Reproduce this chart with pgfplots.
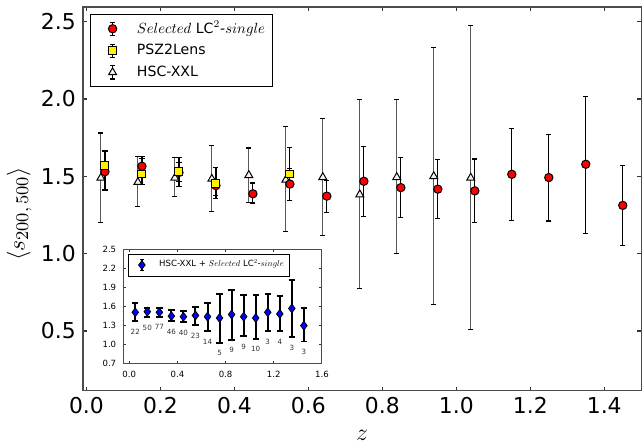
\documentclass[border=0pt]{standalone}
\usepackage{pgfplots}
\pgfplotsset{compat=1.18}
\usepackage{fontspec}
\setmainfont{DejaVu Sans}
\newcommand\smi[2]{\scalebox{#1}{\fontsize{10}{12}\selectfont$#2$}}
\pgfplotsset{
  mainleg/.style={legend image code/.code={%
    \draw[black, line width=0.6pt] (9.5pt,-3.3pt) -- (9.5pt,3.3pt) (8.2pt,-3.3pt) -- (10.8pt,-3.3pt) (8.2pt,3.3pt) -- (10.8pt,3.3pt);
    \draw[##1] plot coordinates {(9.5pt,0pt)};
    \path (0pt,0pt) (19.5pt,0pt);}},
  insetleg/.style={legend image code/.code={%
    \draw[black, line width=0.8pt] (5.5pt,-2.8pt) -- (5.5pt,2.8pt) (4.5pt,-2.8pt) -- (6.5pt,-2.8pt) (4.5pt,2.8pt) -- (6.5pt,2.8pt);
    \draw[##1] plot coordinates {(5.5pt,0pt)};
    \path (0pt,0pt) (12pt,0pt);}},
}
\begin{document}
\begin{tikzpicture}
\begin{axis}[
  name=main,
  scale only axis, width=281pt, height=193pt,
  xmin=-0.01, xmax=1.5, ymin=0.115, ymax=2.595,
  xtick={0,0.2,0.4,0.6,0.8,1.0,1.2,1.4},
  ytick={0.5,1.0,1.5,2.0,2.5},
  xticklabel style={/pgf/number format/.cd, fixed, fixed zerofill, precision=1, assume math mode=true},
  yticklabel style={/pgf/number format/.cd, fixed, fixed zerofill, precision=1, assume math mode=true},
  tick label style={font=\fontsize{11}{13}\selectfont},
  axis line style={black!70, line width=0.75pt},
  tick style={black!80, line width=0.6pt},
  major tick length=2pt,
  xlabel={$z$}, ylabel={$\left\langle s_{200,\,500}\right\rangle$},
  label style={font=\fontsize{12}{14}\selectfont},
  xlabel style={at={(axis description cs:0.5,-0.117)}, anchor=center},
  ylabel style={at={(axis description cs:-0.114,0.461)}, anchor=center, font=\fontsize{13}{15}\selectfont},
  legend style={at={(0.0125,0.982)}, anchor=north west, draw=black, line width=0.5pt,
    font=\fontsize{7.1}{9}\selectfont, inner sep=1.5pt, row sep=0pt},
  legend cell align=left,
]
\addlegendimage{mainleg, mark=*, mark size=2.1pt, mark options={fill=red, draw=black, line width=0.5pt}}
\addlegendentry{\smi{0.74}{Selected} LC\smi{0.74}{^{2}}-\smi{0.74}{single}}
\addlegendimage{mainleg, mark=square*, mark size=2pt, mark options={fill=yellow, draw=black, line width=0.5pt}}
\addlegendentry{PSZ2Lens}
\addlegendimage{mainleg, mark=triangle*, mark size=2.3pt, mark options={fill=white!90!gray, draw=black, line width=0.5pt}}
\addlegendentry{HSC-XXL}

% HSC-XXL
\addplot[only marks, mark=triangle*, mark size=2.3pt,
  mark options={fill=white!90!gray, draw=black, line width=0.5pt},
  error bars/.cd, y dir=both, y explicit,
  error bar style={black!65, line width=0.6pt},
  error mark options={black, line width=0.6pt, mark size=1.3pt, rotate=90}]
  table[x=z, y=v, y error plus=ep, y error minus=em] {
z v ep em
0.039 1.490 0.290 0.290
0.139 1.462 0.168 0.157
0.239 1.490 0.130 0.120
0.339 1.483 0.217 0.213
0.439 1.507 0.176 0.177
0.539 1.477 0.343 0.332
0.639 1.494 0.379 0.377
0.739 1.382 0.615 0.606
0.839 1.494 0.503 0.495
0.939 1.500 0.834 0.827
1.039 1.490 0.985 0.982
};
% Selected LC2-single
\addplot[only marks, mark=*, mark size=2.1pt,
  mark options={fill=red, draw=black, line width=0.5pt},
  error bars/.cd, y dir=both, y explicit,
  error bar style={black, line width=0.6pt},
  error mark options={black, line width=0.6pt, mark size=1.3pt, rotate=90}]
  table[x=z, y=v, y error plus=ep, y error minus=em] {
z v ep em
0.05 1.530 0.130 0.120
0.15 1.565 0.065 0.065
0.25 1.525 0.065 0.060
0.35 1.440 0.115 0.085
0.45 1.387 0.070 0.060
0.55 1.450 0.100 0.105
0.65 1.372 0.100 0.105
0.75 1.468 0.225 0.227
0.85 1.427 0.196 0.194
0.95 1.417 0.190 0.190
1.05 1.406 0.206 0.206
1.15 1.513 0.298 0.300
1.25 1.492 0.281 0.281
1.35 1.578 0.440 0.448
1.45 1.312 0.259 0.257
};
% PSZ2Lens
\addplot[only marks, mark=square*, mark size=2pt,
  mark options={fill=yellow, draw=black, line width=0.5pt},
  error bars/.cd, y dir=both, y explicit,
  error bar style={black, line width=0.6pt},
  error mark options={black, line width=0.6pt, mark size=1.3pt, rotate=90}]
  table[x=z, y=v, y error plus=ep, y error minus=em] {
z v ep em
0.05 1.569 0.095 0.155
0.15 1.515 0.100 0.070
0.25 1.533 0.087 0.097
0.35 1.455 0.100 0.080
0.55 1.515 0.172 0.170
};
\end{axis}
\path ([yshift=3.5pt]main.north west);

\begin{axis}[
  at={(20.35pt,13.5pt)}, anchor=south west,
  scale only axis, width=100pt, height=57.5pt,
  xmin=-0.05, xmax=1.6, ymin=0.7, ymax=2.5,
  xtick={0,0.4,0.8,1.2,1.6},
  ytick={0.7,1.0,1.3,1.6,1.9,2.2,2.5},
  xticklabel style={/pgf/number format/.cd, fixed, fixed zerofill, precision=1, assume math mode=true},
  yticklabel style={/pgf/number format/.cd, fixed, fixed zerofill, precision=1, assume math mode=true},
  tick label style={font=\fontsize{4.3}{5}\selectfont},
  axis background/.style={fill=white},
  axis line style={black!70, line width=0.5pt},
  tick style={black!80, line width=0.5pt},
  major tick length=1.5pt,
  legend style={at={(0.025,0.963)}, anchor=north west, draw=black, line width=0.4pt,
    font=\fontsize{4.3}{5.3}\selectfont, inner sep=1pt},
  legend cell align=left,
]
\addlegendimage{insetleg, mark=diamond*, mark size=2.2pt, mark options={fill=blue, draw=black, line width=0.4pt}}
\addlegendentry{HSC-XXL + \smi{0.43}{Selected} LC\smi{0.43}{^{2}}-\smi{0.43}{single}}
\addplot[only marks, mark=diamond*, mark size=2.2pt,
  mark options={fill=blue, draw=black, line width=0.4pt},
  error bars/.cd, y dir=both, y explicit,
  error bar style={black, line width=1pt},
  error mark options={black, line width=1pt, mark size=1.6pt, rotate=90}]
  table[x=z, y=v, y error plus=ep, y error minus=em] {
z v ep em
0.05 1.510 0.140 0.140
0.15 1.520 0.060 0.090
0.25 1.510 0.070 0.070
0.35 1.450 0.090 0.080
0.45 1.440 0.090 0.085
0.55 1.460 0.140 0.150
0.65 1.440 0.220 0.230
0.75 1.420 0.380 0.390
0.85 1.475 0.391 0.395
0.95 1.440 0.340 0.310
1.05 1.420 0.360 0.330
1.15 1.510 0.290 0.300
1.25 1.485 0.275 0.275
1.35 1.570 0.450 0.450
1.45 1.300 0.270 0.250
};
\addplot[draw=none, mark=none, nodes near coords, point meta=explicit symbolic,
  nodes near coords style={font=\fontsize{3.6}{4}\selectfont, anchor=center, yshift=-5.25pt, inner sep=0pt, text=black!80}]
  table[x=z, y=b, meta=n] {
z b n
0.05 1.370 22
0.15 1.430 50
0.25 1.440 77
0.35 1.370 46
0.45 1.355 40
0.55 1.310 23
0.65 1.210 14
0.75 1.030 5
0.85 1.080 9
0.95 1.130 9
1.05 1.090 10
1.15 1.210 3
1.25 1.210 4
1.35 1.120 3
1.45 1.050 3
};
\end{axis}
\end{tikzpicture}
\end{document}
